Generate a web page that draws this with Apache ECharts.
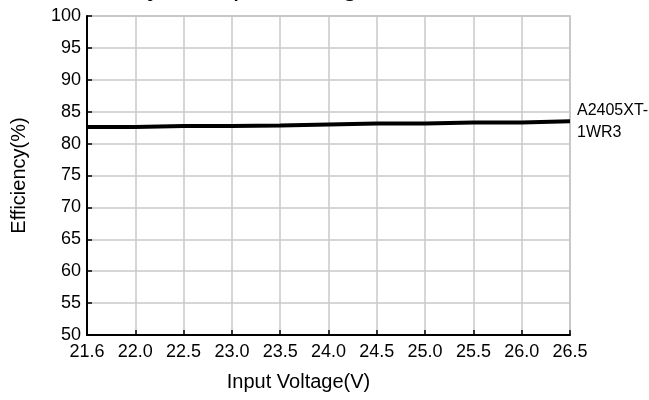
<!DOCTYPE html>
<html lang="en">
<head>
    <meta charset="UTF-8">
    <title>Efficiency</title>
    <style>
        html, body, #chart {
            margin: 0;
            padding: 0;
            width: 649px;
            height: 400px;
            background: #fff;
        }
    </style>
</head>
<body>
    <div id="chart"></div>
    <script src="https://cdn.jsdelivr.net/npm/echarts@6/dist/echarts.min.js"></script>
    <script>
        // input voltage categories (evenly spaced in the original)
        var voltages = ['21.6', '22.0', '22.5', '23.0', '23.5', '24.0', '24.5', '25.0', '25.5', '26.0', '26.5'];
        // efficiency
        var efficiency = [82.6, 82.75, 82.75, 82.85, 83.0, 83.15, 83.15, 83.3, 83.3, 83.5, 83.5];
        var seriesName = 'A2405XT-\n1WR3';

        var font = 'Liberation Sans';
        var chart = echarts.init(document.getElementById('chart'));

        chart.setOption({
            animation: false,
            title: {
                text: 'Efficiency Vs Input Voltage',
                left: 42,
                top: -27,
                padding: 0,
                textStyle: { fontFamily: font, fontSize: 28, fontWeight: 'normal', color: '#000' }
            },
            grid: {
                left: 87,
                right: 79,
                top: 16,
                bottom: 65,
                show: true,
                borderColor: '#b4b4b4',
                borderWidth: 1.5
            },
            xAxis: {
                type: 'category',
                data: voltages,
                boundaryGap: false,
                name: 'Input Voltage(V)',
                nameLocation: 'middle',
                nameGap: 37,
                nameTextStyle: { fontFamily: font, fontSize: 20, color: '#000', padding: [0, 60, 0, 0] },
                axisLine: { lineStyle: { color: '#000', width: 2 } },
                axisTick: { inside: true, length: 5, lineStyle: { color: '#000', width: 1.5 } },
                axisLabel: { fontFamily: font, fontSize: 18, color: '#000', margin: 8 },
                splitLine: { show: true, lineStyle: { color: '#c8c8c8', width: 1.5 } }
            },
            yAxis: {
                type: 'value',
                min: 50,
                max: 100,
                interval: 5,
                name: 'Efficiency(%)',
                nameLocation: 'middle',
                nameGap: 58,
                nameTextStyle: { fontFamily: font, fontSize: 20, color: '#000' },
                axisLine: { show: true, lineStyle: { color: '#000', width: 2 } },
                axisTick: { show: true, inside: true, length: 5, lineStyle: { color: '#000', width: 1.5 } },
                axisLabel: { fontFamily: font, fontSize: 18, color: '#000', margin: 6 },
                splitLine: { show: true, lineStyle: { color: '#c8c8c8', width: 1.5 } }
            },
            series: [{
                name: seriesName,
                type: 'line',
                step: 'end',
                data: efficiency,
                showSymbol: false,
                lineStyle: { color: '#000', width: 4 },
                endLabel: {
                    show: true,
                    formatter: seriesName,
                    distance: 7,
                    fontFamily: font,
                    fontSize: 16,
                    lineHeight: 22,
                    color: '#000'
                }
            }]
        });
    </script>
</body>
</html>
